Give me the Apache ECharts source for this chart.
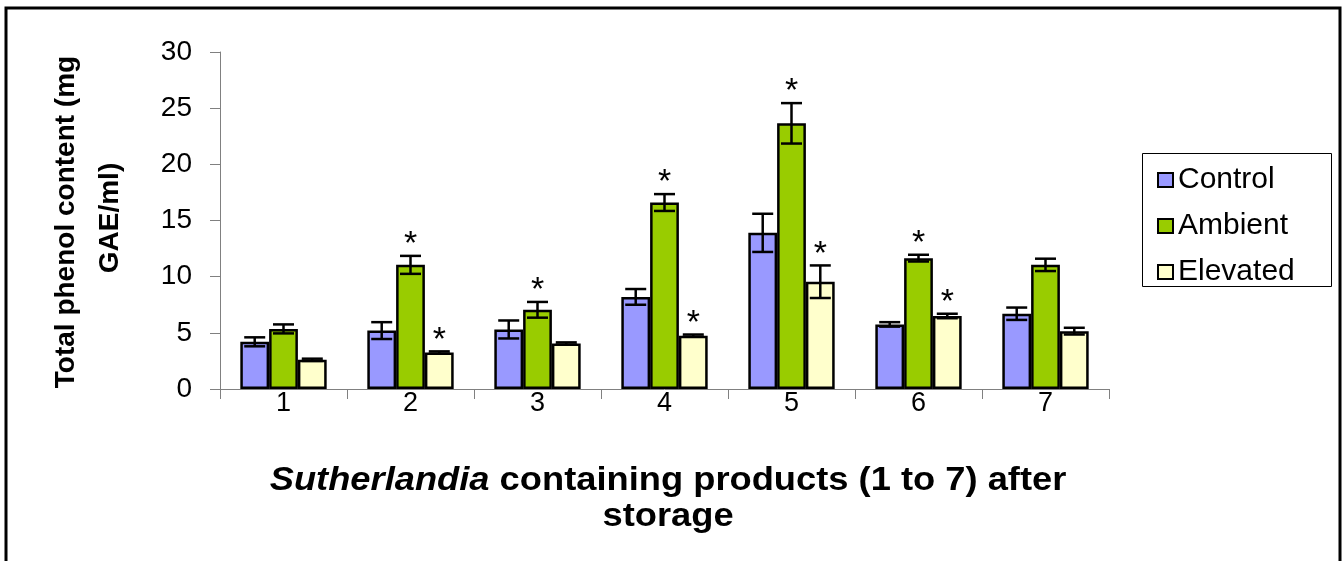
<!DOCTYPE html>
<html>
<head>
<meta charset="utf-8">
<script src="https://cdn.jsdelivr.net/npm/echarts@6/dist/echarts.min.js"></script>
<style>
  html, body { margin: 0; padding: 0; background: #fff; }
  #chart { width: 1342px; height: 561px; }
</style>
</head>
<body>
<div id="chart"></div>
<script>
// Product numbers on the category axis
var products = ['1', '2', '3', '4', '5', '6', '7'];
var yTicks = [0, 5, 10, 15, 20, 25, 30];

// Mean total phenol content (mg GAE/ml) and error for each storage condition
var control = [4.2, 5.2, 5.3, 8.2, 13.9, 5.75, 6.7];
var controlErr = [0.4, 0.75, 0.8, 0.7, 1.7, 0.2, 0.55];
var ambient = [5.35, 11.05, 7.05, 16.6, 23.65, 11.65, 11.05];
var ambientErr = [0.4, 0.8, 0.7, 0.75, 1.8, 0.3, 0.55];
var elevated = [2.6, 3.25, 4.05, 4.75, 9.55, 6.5, 5.15];
var elevatedErr = [0.1, 0.1, 0.1, 0.1, 1.45, 0.2, 0.3];

// Significant difference markers (1 = *)
var controlSig = [0, 0, 0, 0, 0, 0, 0];
var ambientSig = [0, 1, 1, 1, 1, 1, 0];
var elevatedSig = [0, 1, 0, 1, 1, 1, 0];

var seriesNames = ['Control', 'Ambient', 'Elevated'];
var colors = ['#9999FF', '#99CC00', '#FFFFCC'];
var means = [control, ambient, elevated];
var errs = [controlErr, ambientErr, elevatedErr];
var sigs = [controlSig, ambientSig, elevatedSig];

var CAT_GAP = 0.32;
var FONT = '"Liberation Sans", Arial, sans-serif';

function errorSeries(k) {
  var data = products.map(function (p, i) {
    return [i, means[k][i], errs[k][i], sigs[k][i]];
  });
  return {
    type: 'custom',
    name: seriesNames[k] + ' error',
    z: 5,
    silent: true,
    encode: { x: 0, y: 1 },
    data: data,
    renderItem: function (params, api) {
      var cat = api.value(0), mean = api.value(1), err = api.value(2), sig = api.value(3);
      var band = api.size([1, 0])[0];
      var bw = band * (1 - CAT_GAP) / 3;
      var x = api.coord([cat, mean])[0] + (k - 1) * bw;
      var yTop = api.coord([cat, mean + err])[1];
      var yBot = api.coord([cat, mean - err])[1];
      var half = 10.5;
      var style = { stroke: '#000', lineWidth: 2.5 };
      var children = [
        { type: 'line', shape: { x1: x, y1: yTop, x2: x, y2: yBot }, style: style },
        { type: 'line', shape: { x1: x - half, y1: yTop, x2: x + half, y2: yTop }, style: style },
        { type: 'line', shape: { x1: x - half, y1: yBot, x2: x + half, y2: yBot }, style: style }
      ];
      if (sig) {
        children.push({
          type: 'text',
          style: {
            text: '*', x: x, y: yTop - 11,
            align: 'center', verticalAlign: 'middle',
            font: '34px ' + FONT, fill: '#000'
          }
        });
      }
      return { type: 'group', children: children };
    }
  };
}

var barSeries = seriesNames.map(function (name, k) {
  return {
    type: 'bar',
    name: name,
    data: means[k],
    barGap: '0%',
    barCategoryGap: (CAT_GAP * 100) + '%',
    itemStyle: { color: colors[k], borderColor: '#000', borderWidth: 2.5 },
    emphasis: { disabled: true }
  };
});

var chart = echarts.init(document.getElementById('chart'), null, { renderer: 'canvas' });
chart.setOption({
  animation: false,
  backgroundColor: '#fff',
  grid: { left: 220, right: 233, top: 52, bottom: 172, containLabel: false },
  xAxis: {
    type: 'category',
    data: products,
    boundaryGap: true,
    axisLine: { lineStyle: { color: '#808080', width: 1 } },
    axisTick: { show: true, length: 10, lineStyle: { color: '#808080' } },
    axisLabel: { color: '#000', fontSize: 27, fontFamily: FONT, margin: 1 },
    splitLine: { show: false }
  },
  yAxis: {
    type: 'value',
    min: yTicks[0],
    max: yTicks[yTicks.length - 1],
    interval: yTicks[1] - yTicks[0],
    axisLine: { show: true, lineStyle: { color: '#808080', width: 1 } },
    axisTick: { show: true, length: 10, lineStyle: { color: '#808080' } },
    axisLabel: { color: '#000', fontSize: 28, fontFamily: FONT, margin: 28 },
    splitLine: { show: false }
  },
  legend: {
    data: seriesNames,
    orient: 'vertical',
    left: 1152,
    top: 160,
    itemWidth: 15,
    itemHeight: 14,
    itemGap: 16,
    itemTextGap: 16,
    icon: 'rect',
    itemStyle: { borderColor: '#000', borderWidth: 2 },
    textStyle: { color: '#000', fontSize: 30, fontFamily: FONT },
    selectedMode: false
  },
  graphic: [
    // outer frame (open at the bottom)
    {
      type: 'polyline', silent: true,
      shape: { points: [[6, 570], [6, 8], [1340, 8], [1340, 570]] },
      style: { stroke: '#000', lineWidth: 3, fill: null }
    },
    // legend box
    {
      type: 'rect', silent: true,
      shape: { x: 1142.5, y: 153.5, width: 189, height: 133 },
      style: { stroke: '#000', lineWidth: 1, fill: null }
    },
    // y-axis title, two rotated lines
    {
      type: 'text', silent: true, x: 66, y: 222, rotation: Math.PI / 2,
      style: {
        text: 'Total phenol content (mg', align: 'center', verticalAlign: 'middle',
        font: 'bold 28px ' + FONT, fill: '#000'
      }
    },
    {
      type: 'text', silent: true, x: 110, y: 218, rotation: Math.PI / 2,
      style: {
        text: 'GAE/ml)', align: 'center', verticalAlign: 'middle',
        font: 'bold 28px ' + FONT, fill: '#000'
      }
    },
    // x-axis title
    {
      type: 'text', silent: true, x: 668, y: 481, scaleX: 1.1,
      style: {
        text: '{i|Sutherlandia} containing products (1 to 7) after',
        align: 'center', verticalAlign: 'middle',
        font: 'bold 33px ' + FONT, fill: '#000',
        rich: { i: { font: 'italic bold 33px ' + FONT, fill: '#000' } }
      }
    },
    {
      type: 'text', silent: true, x: 668, y: 517, scaleX: 1.1,
      style: {
        text: 'storage', align: 'center', verticalAlign: 'middle',
        font: 'bold 33px ' + FONT, fill: '#000'
      }
    }
  ],
  series: barSeries.concat([errorSeries(0), errorSeries(1), errorSeries(2)])
});
</script>
</body>
</html>
